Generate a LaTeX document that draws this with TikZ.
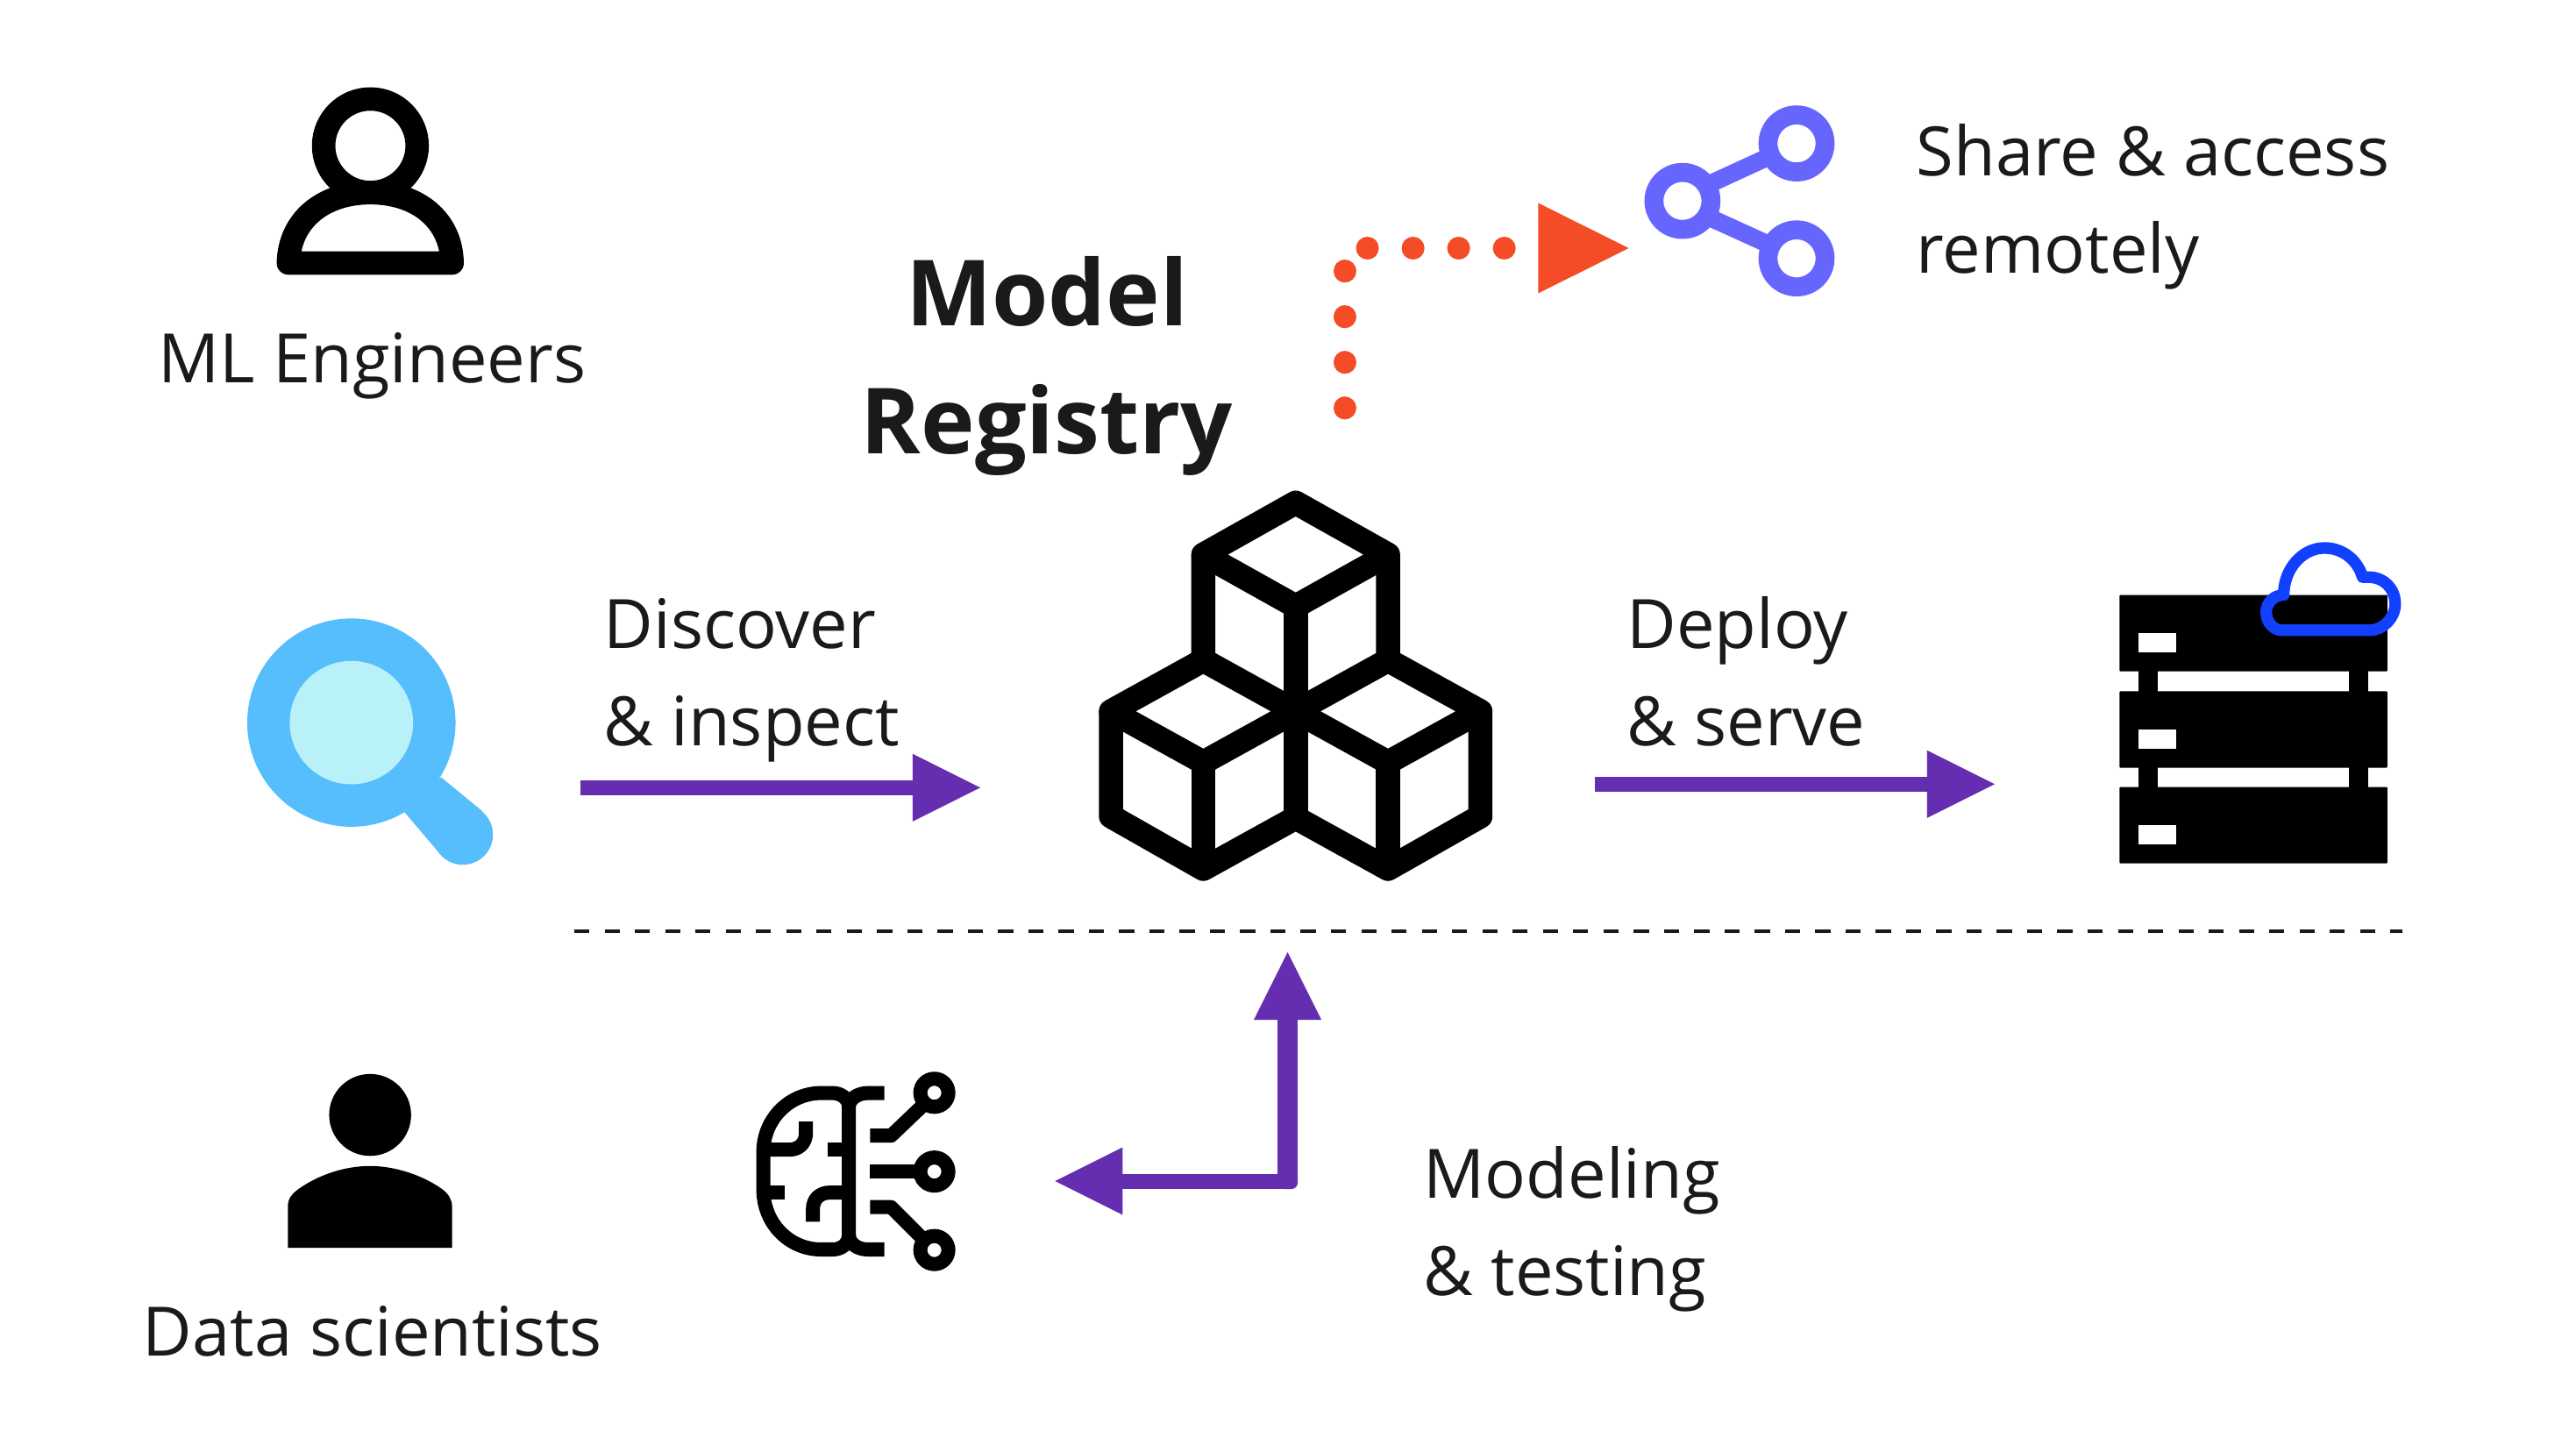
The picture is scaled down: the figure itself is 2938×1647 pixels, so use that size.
\documentclass[tikz,border=0pt]{standalone}
\usepackage{fontspec}
\usetikzlibrary{arrows.meta}
\setmainfont{Open Sans}
\definecolor{inkT}{HTML}{1A1A1A}
\definecolor{purp}{HTML}{652DB0}
\definecolor{redo}{HTML}{F44C27}
\definecolor{shar}{HTML}{6666FF}
\definecolor{lensO}{HTML}{56BEFD}
\definecolor{lensI}{HTML}{B8F2F8}
\definecolor{cloudb}{HTML}{1240FF}
\tikzset{
 lbl/.style={inner sep=0pt,anchor=base west,text=inkT,font=\fontsize{22.1}{27}\selectfont},
 ttl/.style={inner sep=0pt,anchor=base,text=inkT,font=\fontsize{29.6}{34}\selectfont\bfseries},
 zoomed/.style={x=0.003333cm,y=-0.003333cm},
 zoomedcube/.style={x=0.003508cm,y=-0.003333cm},
 flow/.style={draw=purp,line width=0.17cm,-{Triangle[length=0.77cm 0 1,width=0.77cm 0 1,line width=0pt 0]}},
 redflow/.style={draw=redo,line width=0.26cm,line cap=round,dash pattern=on 0.001cm off 0.519cm,-{Triangle[length=1.034cm 0 1,width=1.03cm 0 1,line width=0pt 0]}},
 sep/.style={draw=inkT,line width=0.043cm,dash pattern=on 0.173cm off 0.172cm},
 cube/.style={line width=0.275cm,line join=round},
 brain/.style={line width=0.16cm},
}
\begin{document}
\begin{tikzpicture}[x=0.01cm,y=-0.01cm,line join=round]
\useasboundingbox (0,0) rectangle (2938,1647);
\fill[white] (0,0) rectangle (2938,1647);
% person 1
\begin{scope}[shift={(280,80)},zoomed,line width=0.2667cm]
\draw (428,259) circle[radius=0.533cm];
\draw (147,661) .. controls (150,515) and (265,420) .. (428,420) .. controls (591,420) and (706,515) .. (708,661) -- cycle;
\end{scope}
\node[lbl] (ml) at (180,436) {ML Engineers};
% person 2
\begin{scope}[shift={(300,1200)},zoomed]
\fill (367,215) circle[radius=0.467cm];
\fill (85,670) -- (85,530) .. controls (85,500) and (100,485) .. (120,470) .. controls (190,420) and (280,390) .. (367,390) .. controls (450,390) and (545,420) .. (615,470) .. controls (635,485) and (648,505) .. (648,530) -- (648,670) -- cycle;
\end{scope}
\node[lbl] (ds) at (162,1546) {Data scientists};
% magnifier
\begin{scope}[shift={(260,680)},zoomed]
\fill[lensO] (423,433) circle[radius=1.187cm];
\fill[lensO] (730,620) -- (870,735) -- (805,817) -- (720,875) -- (605,740) -- cycle;
\fill[lensO] (805,817) circle[radius=0.343cm];
\fill[lensI] (423,433) circle[radius=0.703cm];
\end{scope}
% title
\node[ttl] (t1) at (1194,371) {Model};
\node[ttl] (t2) at (1194,517) {Registry};
% cubes
\begin{scope}[shift={(1200,530)},zoomedcube,cube]
\draw (491,308) -- (791,130) -- (1091,308) -- (791,485) -- cycle;
\draw (491,308) -- (491,670) -- (791,845) -- (1091,670) -- (1091,308);
\draw (791,485) -- (791,1210);
\draw (491,670) -- (191,845) -- (491,1020) -- (791,845);
\draw (191,845) -- (191,1205) -- (491,1385) -- (791,1210) -- (1091,1385) -- (1391,1205) -- (1391,845) -- (1091,670);
\draw (1391,845) -- (1091,1020) -- (791,845);
\draw (491,1020) -- (491,1385);
\draw (1091,1020) -- (1091,1385);
\end{scope}
% server
\begin{scope}[shift={(2380,590)},zoomed]
\fill (177,500) rectangle (242,620);
\fill (177,830) rectangle (242,950);
\fill (899,500) rectangle (965,620);
\fill (899,830) rectangle (965,950);
\fill[rounded corners=0.01cm] (112,266) rectangle (1030,528);
\fill[rounded corners=0.01cm] (112,596) rectangle (1030,858);
\fill[rounded corners=0.01cm] (112,924) rectangle (1030,1186);
\fill[white] (177,398) rectangle (307,463);
\fill[white] (177,728) rectangle (307,792);
\fill[white] (177,1056) rectangle (307,1120);
\draw[cloudb,line width=0.133cm] (675,266) .. controls (675,175) and (740,105) .. (815,105) .. controls (880,105) and (930,150) .. (945,205) -- (965,205) .. controls (1020,205) and (1057,245) .. (1057,297) .. controls (1057,345) and (1015,387) .. (970,387) -- (670,387) .. controls (640,387) and (615,360) .. (615,325) .. controls (615,290) and (645,266) .. (675,266) -- cycle;
\end{scope}
% brain
\begin{scope}[shift={(840,1202)},zoomed,brain]
\draw (385,620) .. controls (385,650) and (360,670) .. (330,670) -- (290,670) .. controls (180,670) and (92,580) .. (92,465) -- (92,335) .. controls (92,225) and (180,134) .. (290,134) -- (330,134) .. controls (360,134) and (385,155) .. (385,180) -- cycle;
\draw (507,134) -- (450,134) .. controls (415,134) and (385,155) .. (385,180);
\draw (507,670) -- (450,670) .. controls (415,670) and (385,650) .. (385,620);
\draw (92,328) -- (180,328) .. controls (215,328) and (238,305) .. (238,270) -- (238,232);
\draw (312,328) -- (385,328);
\draw (92,475) -- (165,475);
\draw (385,475) -- (320,475) .. controls (285,475) and (262,498) .. (262,530) -- (262,575);
\draw (458,280) -- (530,280) -- (640,175);
\draw (458,403) -- (640,403);
\draw (458,525) -- (530,525) -- (640,635);
\draw (678,133) circle[radius=0.16cm];
\draw (678,403) circle[radius=0.16cm];
\draw (678,672) circle[radius=0.16cm];
\end{scope}
% share
\begin{scope}[shift={(1850,100)},zoomed,draw=shar,line width=0.2167cm]
\draw[line width=0.2cm] (300,330) -- (500,238);
\draw[line width=0.2cm] (300,445) -- (500,536);
\draw (207,388) circle[radius=0.325cm];
\draw (598,191) circle[radius=0.325cm];
\draw (598,585) circle[radius=0.325cm];
\end{scope}
% labels
\node[lbl] (sh1) at (2185,200) {Share \& access};
\node[lbl] (sh2) at (2185,311) {remotely};
\node[lbl] (di1) at (688,739) {Discover};
\node[lbl] (di2) at (688,850) {\& inspect};
\node[lbl] (de1) at (1855,739) {Deploy};
\node[lbl] (de2) at (1855,850) {\& serve};
\node[lbl] (mo1) at (1623,1366) {Modeling};
\node[lbl] (mo2) at (1623,1477) {\& testing};
% connectors
\coordinate (a1) at (662,898.3);
\coordinate (a2) at (1118,898.3);
\draw[flow] (a1) -- (a2);
\coordinate (b1) at (1819.3,894.3);
\coordinate (b2) at (2275,894.3);
\draw[flow] (b1) -- (b2);
\coordinate (elbow) at (1468.5,1347);
\coordinate (elbowlow) at (1468.5,1350);
\coordinate (c1) at (1203.3,1347);
\coordinate (c2) at (1468.5,1086);
\fill[purp,rounded corners=0.07cm] (1457,1335) rectangle (1480,1356);
\draw[flow] (elbow) -- (c1);
\draw[flow,line width=0.23cm] (elbowlow) -- (c2);
\coordinate (r1) at (1533.7,465.3);
\coordinate (r2) at (1533.7,283);
\coordinate (r3) at (1857.7,283);
\draw[redflow] (r1) -- (r2) -- (r3);
\coordinate (s1) at (655,1061.7);
\coordinate (s2) at (2740,1061.7);
\draw[sep] (s1) -- (s2);
\end{tikzpicture}
\end{document}
